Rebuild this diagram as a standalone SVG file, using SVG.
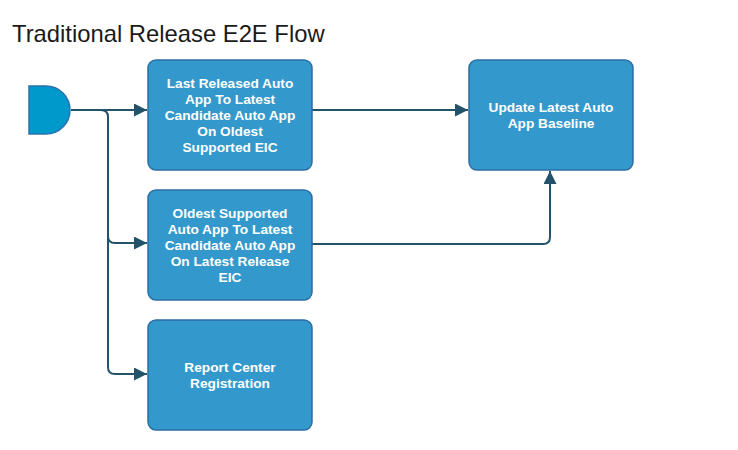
<svg xmlns="http://www.w3.org/2000/svg" width="738" height="450" viewBox="0 0 738 450">
<style>
.box{fill:#3399cc;stroke:#2b6ea4;stroke-width:1.5}
.lbl{font-family:"Liberation Sans",Arial,sans-serif;font-size:13.7px;font-weight:bold;fill:#ffffff;text-anchor:middle}
.edge{fill:none;stroke:#23526b;stroke-width:2}
.title{font-family:"Liberation Sans",Arial,sans-serif;font-size:23.8px;fill:#1a1a1a}
</style>
<defs>
<marker id="arrh" viewBox="0 0 10 10" refX="10" refY="5" markerWidth="13" markerHeight="13" orient="auto" markerUnits="userSpaceOnUse">
<path d="M0,0 L10,5 L0,10 Z" fill="#23526b"/>
</marker>
</defs>
<rect width="738" height="450" fill="#ffffff"/>
<text class="title" x="12" y="42">Traditional Release E2E Flow</text>
<g id="connectors">
<path class="edge" d="M71,110 H147" marker-end="url(#arrh)"/>
<path class="edge" d="M71,110 H101 Q108,110 108,117 V236 Q108,243 115,243 H147" marker-end="url(#arrh)"/>
<path class="edge" d="M108,236 V367 Q108,374 115,374 H147" marker-end="url(#arrh)"/>
<path class="edge" d="M312,110 H468" marker-end="url(#arrh)"/>
<path class="edge" d="M312,244 H543 Q550,244 550,237 V171" marker-end="url(#arrh)"/>
</g>
<g id="start">
<path d="M29,86 H46 A24,24 0 0 1 46,134 H29 Z" fill="#0099cc" stroke="#2b72ad" stroke-width="1.5"/>
</g>
<g id="node1">
<rect class="box" x="148" y="60" width="164" height="110" rx="8"/>
<text class="lbl" x="230" y="87.5">Last Released Auto</text>
<text class="lbl" x="230" y="103.5">App To Latest</text>
<text class="lbl" x="230" y="119.5">Candidate Auto App</text>
<text class="lbl" x="230" y="135.5">On Oldest</text>
<text class="lbl" x="230" y="151.5">Supported EIC</text>
</g>
<g id="node2">
<rect class="box" x="469" y="60" width="164" height="110" rx="8"/>
<text class="lbl" x="551" y="112">Update Latest Auto</text>
<text class="lbl" x="551" y="128">App Baseline</text>
</g>
<g id="node3">
<rect class="box" x="148" y="190" width="164" height="110" rx="8"/>
<text class="lbl" x="230" y="217.5">Oldest Supported</text>
<text class="lbl" x="230" y="233.5">Auto App To Latest</text>
<text class="lbl" x="230" y="249.5">Candidate Auto App</text>
<text class="lbl" x="230" y="265.5">On Latest Release</text>
<text class="lbl" x="230" y="281.5">EIC</text>
</g>
<g id="node4">
<rect class="box" x="148" y="320" width="164" height="110" rx="8"/>
<text class="lbl" x="230" y="372">Report Center</text>
<text class="lbl" x="230" y="388">Registration</text>
</g>
</svg>
